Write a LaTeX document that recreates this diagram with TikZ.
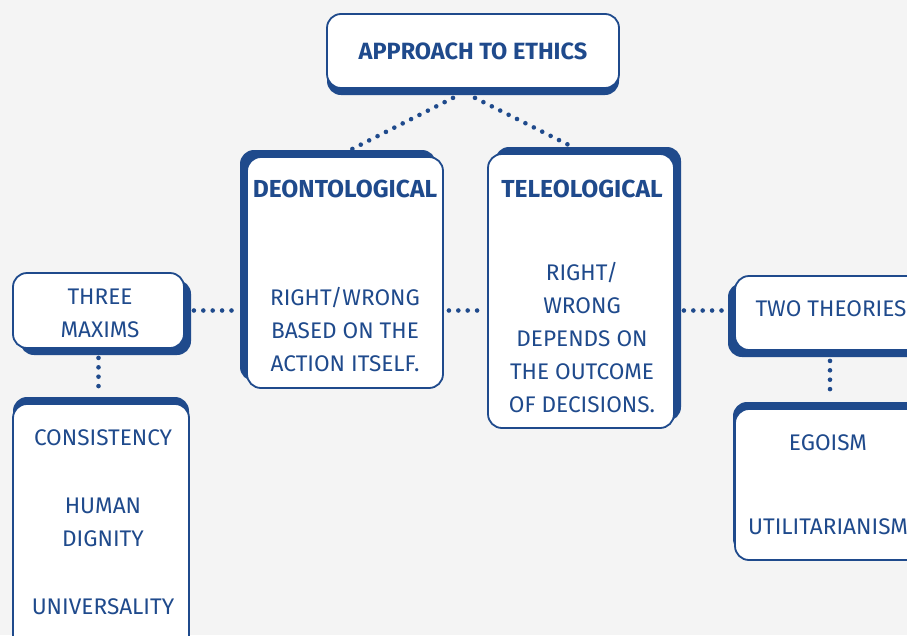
\documentclass[tikz,border=0pt]{standalone}
\usepackage{fontspec}
\setmainfont{Fira Sans}
\usetikzlibrary{positioning,shadows}
\definecolor{EthBlue}{RGB}{31,74,140}
\definecolor{EthBg}{RGB}{244,244,244}

\tikzset{
  ethbox/.style={draw=EthBlue, line width=1.8pt, fill=white, rounded corners=14pt, inner sep=0pt, text=EthBlue, align=center},
  shadowed/.style 2 args={drop shadow={shadow xshift=#1, shadow yshift=#2, fill=EthBlue, opacity=1}},
  dots/.style={EthBlue, line width=4.6pt, line cap=round, dash pattern=on 0pt off 9.4pt},
  headtxt/.style={text=EthBlue, font=\fontsize{24.6}{33}\selectfont\bfseries},
  bodytxt/.style={text=EthBlue, align=center, inner sep=0pt}
}

\begin{document}
\begin{tikzpicture}[x=1pt, y=-1pt, font=\fontsize{22.6}{33}\selectfont]
  \useasboundingbox (0,0) rectangle (907,635);
  \fill[EthBg] (0,0) rectangle (907,635);
  \clip (0,0) rectangle (907,635);

  % Boxes
  \node [ethbox, shadowed={0pt}{-7pt}, minimum width=292pt, minimum height=74pt, font=\fontsize{23.5}{33}\selectfont\bfseries] (approach) at (473,51) {APPROACH TO ETHICS};
  \node [ethbox, shadowed={-7pt}{7pt}, minimum width=196pt, minimum height=231pt] (deon) at (345,272.5) {};
  \node [ethbox, shadowed={7pt}{7pt}, minimum width=186pt, minimum height=274pt] (teleo) at (581,291) {};
  \node [ethbox, shadowed={7pt}{-7pt}, minimum width=171pt, minimum height=75pt] (three) at (98.5,310.5) {};
  \node [ethbox, shadowed={0pt}{7pt}, minimum width=176pt, minimum height=256pt] (cons) at (101,532) {};
  \node [ethbox, shadowed={-7pt}{-7pt}, minimum width=196pt, minimum height=74pt] (two) at (833,313) {};
  \node [ethbox, shadowed={-2pt}{7pt}, minimum width=196pt, minimum height=151pt] (ego) at (833,484.5) {};

  % Texts
  \node [headtxt] (deon-head) at (345,189) {DEONTOLOGICAL};
  \node [bodytxt] (deon-body) at (345,330) {RIGHT/WRONG\\BASED ON THE\\ACTION ITSELF.};
  \node [headtxt] (teleo-head) at (582,189) {TELEOLOGICAL};
  \node [bodytxt] (teleo-body) at (582,338) {RIGHT/\\WRONG\\DEPENDS ON\\THE OUTCOME\\OF DECISIONS.};
  \node [bodytxt] (three-body) at (100,313.5) {THREE\\MAXIMS};
  \node [bodytxt] (two-body) at (831,309) {TWO THEORIES};
  \node [bodytxt] (cons-body) at (103,522.5) {CONSISTENCY\\[35pt]HUMAN\\DIGNITY\\[35pt]UNIVERSALITY};
  \node [bodytxt] (ego-body) at (828,485) {EGOISM\\[51pt]UTILITARIANISM};

  % Dotted links
  \draw[dots] ([xshift=-20pt,yshift=-9pt]approach.south) -- ([xshift=7pt,yshift=7pt]deon.north);
  \draw[dots] ([xshift=2pt,yshift=-9pt]approach.south) -- ([xshift=-8pt,yshift=6pt]teleo.north);
  \draw[dots] ([xshift=9pt]three.east) -- ([xshift=-9pt]three.east -| deon.west);
  \draw[dots] ([xshift=5pt]three.east -| deon.east) -- ([xshift=-3pt]three.east -| teleo.west);
  \draw[dots] ([xshift=9pt]three.east -| teleo.east) -- ([xshift=-9pt]three.east -| two.west);
  \draw[dots] ([yshift=-9pt]three.south) -- ([yshift=10pt]three.south |- cons.north);
  \draw[dots] ([xshift=-3pt,yshift=-10pt]two.south) -- ([xshift=-3pt,yshift=11pt]two.south |- ego.north);
\end{tikzpicture}
\end{document}
